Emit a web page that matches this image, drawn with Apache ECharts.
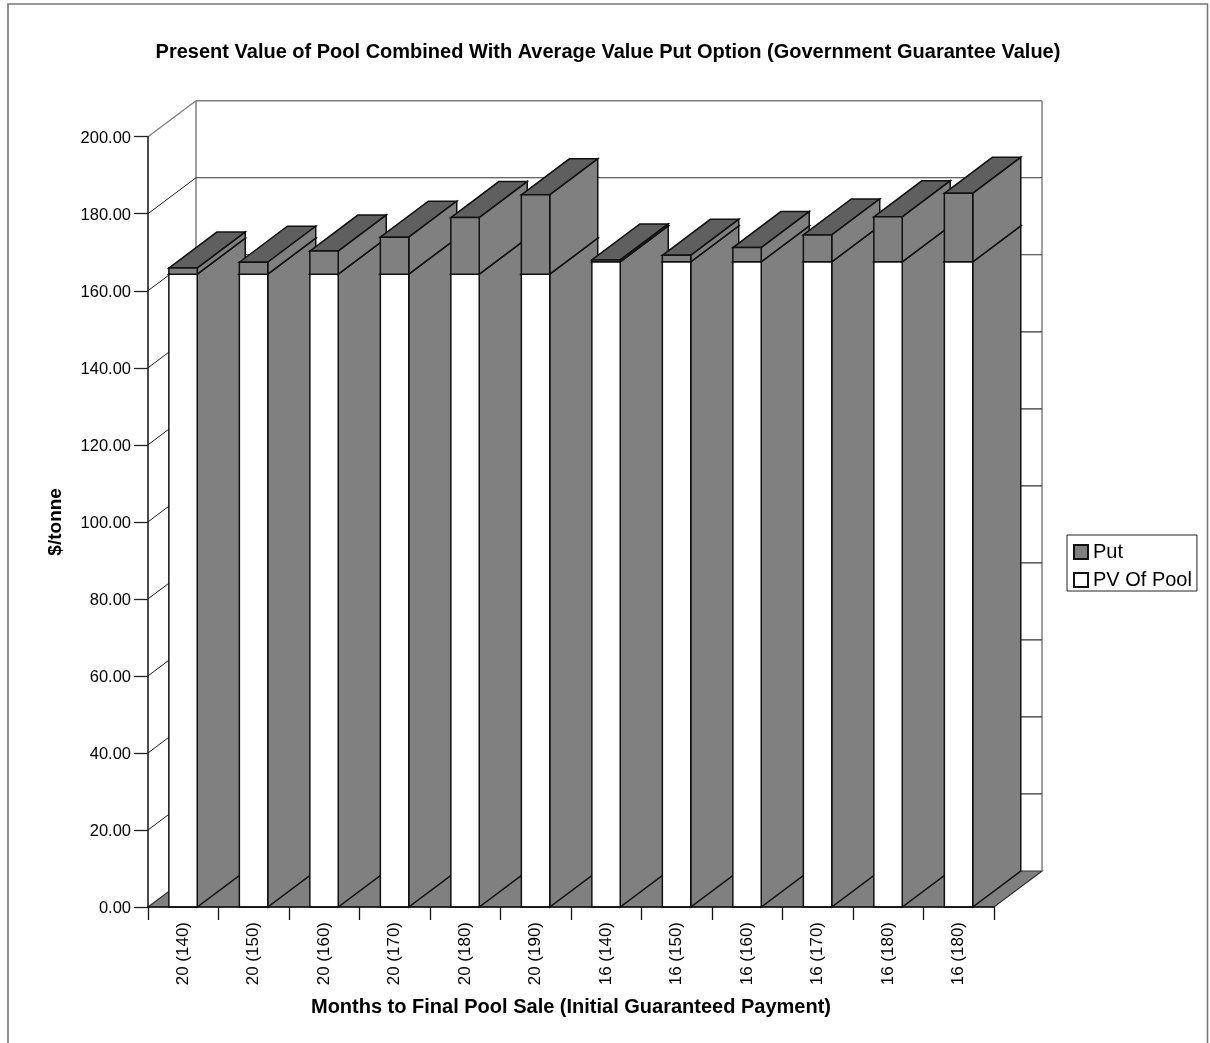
<!DOCTYPE html>
<html>
<head>
<meta charset="utf-8">
<style>html,body{margin:0;padding:0;background:#fff}#chart{width:1210px;height:1043px}</style>
<script src="https://cdn.jsdelivr.net/npm/echarts@6/dist/echarts.min.js"></script>
</head>
<body>
<div id="chart"></div>
<script>
// Stacked pseudo-3D columns: pool present value plus the put option on top.
const categories = ['20 (140)','20 (150)','20 (160)','20 (170)','20 (180)','20 (190)','16 (140)','16 (150)','16 (160)','16 (170)','16 (180)','16 (180)'];
const pvOfPool = [164.3,164.3,164.3,164.3,164.3,164.3,167.5,167.5,167.5,167.5,167.5,167.5];
const putValue = [1.6,3.1,6.0,9.6,14.7,20.6,0.5,1.7,3.7,7.0,11.7,17.8];
const gridValues = [0,20,40,60,80,100,120,140,160,180,200];

// Oblique projection of the depth axis, in pixels.
const DEPTH_X = 48, DEPTH_Y = -36;
const BAR_WIDTH = 28.4;
const OUTLINE = '#111', GREY = '#808080', TOP_GREY = '#5f5f5f';

const chart = echarts.init(document.getElementById('chart'));

function poly(points, fill, lineWidth) {
  return {type:'polygon', shape:{points}, style:{fill, stroke:OUTLINE, lineWidth:lineWidth || 1.5, lineJoin:'miter'}};
}
function seg(x1,y1,x2,y2,stroke,lineWidth){
  return {type:'line', shape:{x1,y1,x2,y2}, style:{stroke, lineWidth:lineWidth||1}};
}

// One stack segment: front face, lid and right-hand side.
function columnPiece(frontFill, baseOf) {
  return function (params, api) {
    const i = api.value(0);
    const low = baseOf(i);
    const high = low + api.value(1);
    const cx = api.coord([i, 0])[0] - 0.2;
    const y0 = api.coord([i, low])[1];
    const y1 = api.coord([i, high])[1];
    const l = cx - BAR_WIDTH / 2, r = cx + BAR_WIDTH / 2;
    return {type:'group', children:[
      poly([[l,y1],[l+DEPTH_X,y1+DEPTH_Y],[r+DEPTH_X,y1+DEPTH_Y],[r,y1]], TOP_GREY),
      poly([[r,y0],[r,y1],[r+DEPTH_X,y1+DEPTH_Y],[r+DEPTH_X,y0+DEPTH_Y]], GREY),
      poly([[l,y0],[l,y1],[r,y1],[r,y0]], frontFill)
    ]};
  };
}

// Back wall, side wall and floor, built from the value axis.
function renderWall(params, api) {
  const v = api.value(0);
  const c = params.coordSys;
  const y = api.coord([0, v])[1];
  const left = c.x, right = c.x + c.width;
  const children = [];
  if (v === 0) {
    children.push({type:'polygon', shape:{points:[[left,y],[left+DEPTH_X,y+DEPTH_Y],[right+DEPTH_X,y+DEPTH_Y],[right,y]]},
      style:{fill:GREY, stroke:'#333', lineWidth:1.2}});
    const top = api.coord([0, gridValues[gridValues.length-1]])[1] + DEPTH_Y;
    children.push(seg(left+DEPTH_X, y+DEPTH_Y, left+DEPTH_X, top, GREY, 1.5));
    children.push(seg(right+DEPTH_X, y+DEPTH_Y, right+DEPTH_X, top, GREY, 1.5));
  } else {
    const top = v === gridValues[gridValues.length-1];
    children.push(seg(left, y, left+DEPTH_X, y+DEPTH_Y, top ? GREY : '#222', top ? 1.4 : 1));
    children.push(seg(left+DEPTH_X, y+DEPTH_Y, right+DEPTH_X, y+DEPTH_Y, top ? GREY : '#333', top ? 1.6 : 1.2));
  }
  return {type:'group', children};
}

const textStyle = {color:'#000', fontFamily:'"Liberation Sans", Arial, sans-serif'};

chart.setOption({
  animation:false,
  backgroundColor:'#fff',
  textStyle,
  title:{
    text:'Present Value of Pool Combined With Average Value Put Option (Government Guarantee Value)',
    left:603, top:37, textAlign:'center',
    textStyle:{...textStyle, fontSize:20, fontWeight:'bold'}
  },
  legend:{
    data:['Put','PV Of Pool'], orient:'vertical', left:1067, top:535, icon:'rect',
    padding:[7,5,1,6], itemGap:8, itemWidth:14, itemHeight:14,
    backgroundColor:'#fff', borderColor:'#222', borderWidth:1, borderRadius:0,
    selectedMode:false,
    textStyle:{...textStyle, fontSize:20}
  },
  grid:{left:148, top:136.7, width:846, height:770.3},
  xAxis:{
    type:'category', data:categories, z:8,
    name:'Months to Final Pool Sale (Initial Guaranteed Payment)',
    nameLocation:'middle', nameGap:90,
    nameTextStyle:{...textStyle, fontSize:20, fontWeight:'bold'},
    axisLine:{lineStyle:{color:'#111', width:1.5}},
    axisTick:{show:true, length:13, lineStyle:{color:'#111', width:1.3}, alignWithLabel:false},
    axisLabel:{rotate:90, margin:15, interval:0, fontSize:17, color:'#000', fontFamily:textStyle.fontFamily}
  },
  yAxis:{
    type:'value', min:0, max:200, interval:20, z:8,
    name:'$/tonne', nameLocation:'middle', nameGap:83, nameRotate:90,
    nameTextStyle:{...textStyle, fontSize:19, fontWeight:'bold'},
    axisLine:{show:true, lineStyle:{color:'#111', width:1.5}},
    axisTick:{show:true, length:14, lineStyle:{color:'#222', width:1.3}},
    splitLine:{show:false},
    axisLabel:{margin:17, fontSize:16.5, color:'#000', verticalAlign:'top', lineHeight:3, fontFamily:textStyle.fontFamily, formatter:v => v.toFixed(2)}
  },
  series:[
    {
      type:'custom', name:'walls', z:1, silent:true, legendHoverLink:false,
      data:gridValues.map(v => [v]),
      encode:{y:0}, renderItem:renderWall
    },
    {
      type:'custom', name:'PV Of Pool', z:2,
      itemStyle:{color:'#fff', borderColor:'#111', borderWidth:1.2},
      data:pvOfPool.map((v,i) => [i,v]),
      encode:{x:0, y:1},
      renderItem:columnPiece('#fff', () => 0)
    },
    {
      type:'custom', name:'Put', z:3,
      itemStyle:{color:GREY, borderColor:'#111', borderWidth:1.2},
      data:putValue.map((v,i) => [i,v]),
      encode:{x:0, y:1},
      renderItem:columnPiece(GREY, i => pvOfPool[i])
    }
  ],
  graphic:[{
    type:'polyline', silent:true, z:0,
    shape:{points:[[8,1060],[8,4],[1207.5,4],[1207.5,1060]]},
    style:{fill:'none', stroke:'#777', lineWidth:1.6}
  }]
});
</script>
</body>
</html>
